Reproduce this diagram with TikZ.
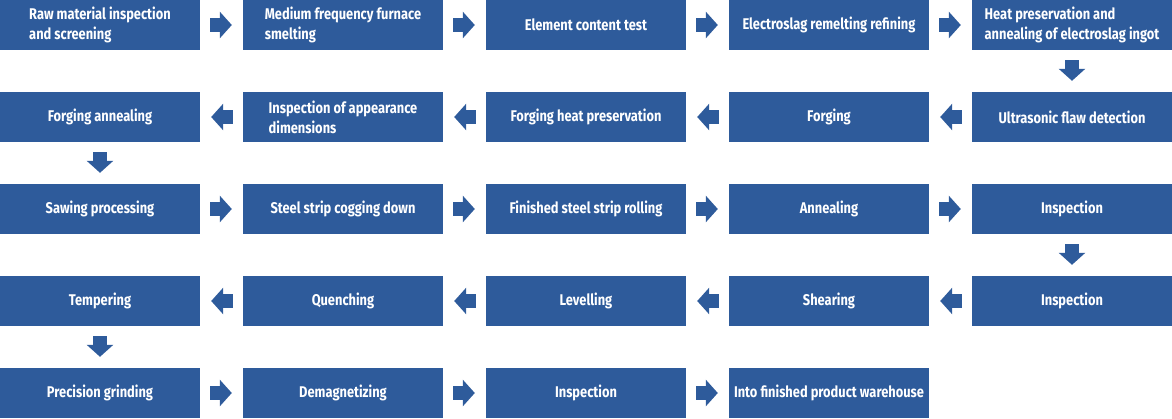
\documentclass[tikz,border=0pt]{standalone}
\usepackage{fontspec}
\setmainfont{Fira Sans}[FakeStretch=0.83]
\usetikzlibrary{arrows.meta}

\definecolor{stepblue}{RGB}{46,91,155}

\tikzstyle{stage} = [rectangle, fill=stepblue, text=white, inner sep=0pt,
    minimum width=200pt, minimum height=50pt, align=left,
    font=\fontsize{15.5}{20}\selectfont\bfseries]
\tikzstyle{flow} = [draw=stepblue, line width=14pt,
    -{Triangle[width=26pt,length=12pt,fill=stepblue]},
    shorten <=10pt, shorten >=11pt]

\begin{document}
\begin{tikzpicture}[x=1pt,y=-1pt]
	\useasboundingbox (0,0) rectangle (1172,418);
	% row 1
	\node [stage] (raw) at (100,25) {Raw material inspection\\and screening};
	\node [stage] (furnace) at (343,25) {Medium frequency furnace\\smelting};
	\node [stage] (content) at (586,25) {Element content test};
	\node [stage] (esr) at (829,25) {Electroslag remelting refining};
	\node [stage] (ingot) at (1072,25) {Heat preservation and\\annealing of electroslag ingot};
	% row 2
	\node [stage] (ultra) at (1072,117) {Ultrasonic flaw detection};
	\node [stage] (forging) at (829,117) {Forging};
	\node [stage] (forgheat) at (586,117) {Forging heat preservation};
	\node [stage] (appear) at (343,117) {Inspection of appearance\\dimensions};
	\node [stage] (forganneal) at (100,117) {Forging annealing};
	% row 3
	\node [stage] (sawing) at (100,209) {Sawing processing};
	\node [stage] (cogging) at (343,209) {Steel strip cogging down};
	\node [stage] (rolling) at (586,209) {Finished steel strip rolling};
	\node [stage] (anneal) at (829,209) {Annealing};
	\node [stage] (inspa) at (1072,209) {Inspection};
	% row 4
	\node [stage] (inspb) at (1072,301) {Inspection};
	\node [stage] (shear) at (829,301) {Shearing};
	\node [stage] (level) at (586,301) {Levelling};
	\node [stage] (quench) at (343,301) {Quenching};
	\node [stage] (temper) at (100,301) {Tempering};
	% row 5
	\node [stage] (grind) at (100,393) {Precision grinding};
	\node [stage] (demag) at (343,393) {Demagnetizing};
	\node [stage] (inspc) at (586,393) {Inspection};
	\node [stage] (store) at (829,393) {Into finished product warehouse};
	%
	\draw [flow] (raw) -- (furnace);
	\draw [flow] (furnace) -- (content);
	\draw [flow] (content) -- (esr);
	\draw [flow] (esr) -- (ingot);
	\draw [flow] (ingot) -- (ultra);
	\draw [flow] (ultra) -- (forging);
	\draw [flow] (forging) -- (forgheat);
	\draw [flow] (forgheat) -- (appear);
	\draw [flow] (appear) -- (forganneal);
	\draw [flow] (forganneal) -- (sawing);
	\draw [flow] (sawing) -- (cogging);
	\draw [flow] (cogging) -- (rolling);
	\draw [flow] (rolling) -- (anneal);
	\draw [flow] (anneal) -- (inspa);
	\draw [flow] (inspa) -- (inspb);
	\draw [flow] (inspb) -- (shear);
	\draw [flow] (shear) -- (level);
	\draw [flow] (level) -- (quench);
	\draw [flow] (quench) -- (temper);
	\draw [flow] (temper) -- (grind);
	\draw [flow] (grind) -- (demag);
	\draw [flow] (demag) -- (inspc);
	\draw [flow] (inspc) -- (store);
\end{tikzpicture}
\end{document}
